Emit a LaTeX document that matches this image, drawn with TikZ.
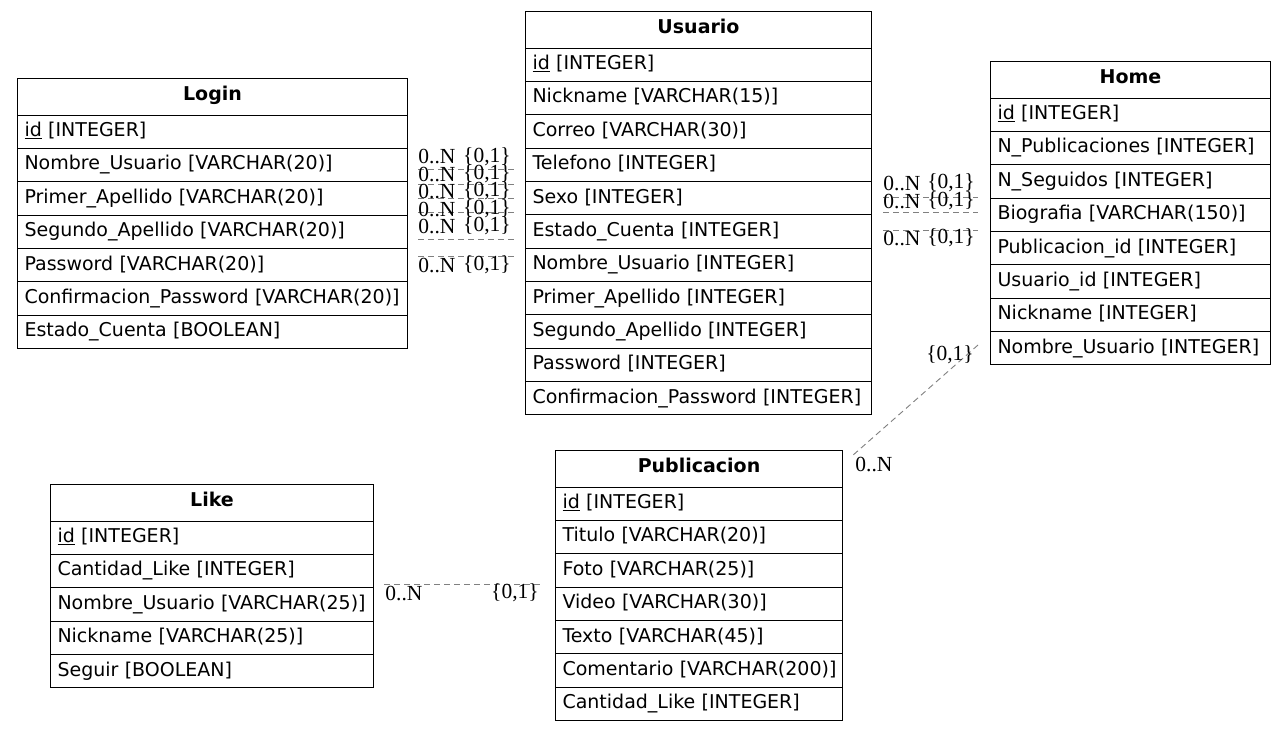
\documentclass[tikz,border=0pt]{standalone}
\usepackage{fontspec}
\newfontfamily\tabfont{DejaVu Sans}
\newfontfamily\cardfont{Liberation Serif}
\usetikzlibrary{calc}
\tikzset{
  x=1pt, y=-1pt,
  hdr/.style={draw, line width=1pt, rectangle, anchor=north west, inner sep=0pt,
    text height=14.4pt, text depth=6.5pt,
    minimum height=36.5pt, minimum width=#1, font=\tabfont\fontsize{19}{21}\selectfont\bfseries},
  fld/.style={draw, line width=1pt, rectangle, anchor=north west, inner xsep=7pt, inner ysep=0pt,
    text height=14.4pt, text depth=4.5pt,
    minimum height=33.35pt, text width=#1-14pt, align=left, font=\tabfont\fontsize{19}{21}\selectfont},
  rel/.style={draw=gray, dash pattern=on 6pt off 4pt, line width=0.9pt},
  card/.style={inner sep=0pt, font=\cardfont\fontsize{21.5}{23}\selectfont},
}
\newcommand\ertable[6]{%
  \node[hdr=#4] (#1) at (#2,#3) {#5};
  \foreach \f [count=\i] in {#6} {
    \node[fld=#4] (#1-\i) at ({#2},{#3+36.5+(\i-1)*33.35}) {\mbox{\f}};
  }
}
\begin{document}
\begin{tikzpicture}
\useasboundingbox (0,0) rectangle (1287,731);
\fill[white] (0,0) rectangle (1287,731);

\ertable{login}{17}{78}{390pt}{Login}{{\underline{id} [INTEGER]},{Nombre\_Usuario [VARCHAR(20)]},{Primer\_Apellido [VARCHAR(20)]},{Segundo\_Apellido [VARCHAR(20)]},{Password [VARCHAR(20)]},{Confirmacion\_Password [VARCHAR(20)]},{Estado\_Cuenta [BOOLEAN]}}

\ertable{usuario}{525}{11}{346pt}{Usuario}{{\underline{id} [INTEGER]},{Nickname [VARCHAR(15)]},{Correo [VARCHAR(30)]},{Telefono [INTEGER]},{Sexo [INTEGER]},{Estado\_Cuenta [INTEGER]},{Nombre\_Usuario [INTEGER]},{Primer\_Apellido [INTEGER]},{Segundo\_Apellido [INTEGER]},{Password [INTEGER]},{Confirmacion\_Password [INTEGER]}}

\ertable{home}{990}{61}{280pt}{Home}{{\underline{id} [INTEGER]},{N\_Publicaciones [INTEGER]},{N\_Seguidos [INTEGER]},{Biografia [VARCHAR(150)]},{Publicacion\_id [INTEGER]},{Usuario\_id [INTEGER]},{Nickname [INTEGER]},{Nombre\_Usuario [INTEGER]}}

\ertable{like}{50}{484}{323pt}{Like}{{\underline{id} [INTEGER]},{Cantidad\_Like [INTEGER]},{Nombre\_Usuario [VARCHAR(25)]},{Nickname [VARCHAR(25)]},{Seguir [BOOLEAN]}}

\ertable{pub}{555}{450}{287pt}{Publicacion}{{\underline{id} [INTEGER]},{Titulo [VARCHAR(20)]},{Foto [VARCHAR(25)]},{Video [VARCHAR(30)]},{Texto [VARCHAR(45)]},{Comentario [VARCHAR(200)]},{Cantidad\_Like [INTEGER]}}

% Login -- Usuario
\foreach \k/\ly/\ty in {1/169/157,2/184/174,3/198/191,4/212/209,5/239/226,6/256/265} {
  \coordinate (lu\k a) at (418,\ly);
  \coordinate (lu\k b) at (515,\ly);
  \draw[rel] (lu\k a) -- (lu\k b);
  \node[card] (lu\k n) at (437,\ty) {0..N};
  \node[card] (lu\k o) at (487,\ty) {\{0,1\}};
}

% Usuario -- Home
\foreach \k/\ly/\ty in {1/197/183,2/212/201,3/230/238} {
  \coordinate (uh\k a) at (883,\ly);
  \coordinate (uh\k b) at (978,\ly);
  \draw[rel] (uh\k a) -- (uh\k b);
  \node[card] (uh\k n) at (902,\ty) {0..N};
  \node[card] (uh\k o) at (951,\ty) {\{0,1\}};
}

% Home -- Publicacion
\coordinate (hp-a) at (978,345);
\coordinate (hp-b) at (852,456);
\draw[rel] (hp-a) -- (hp-b);
\node[card] (hp-o) at (950,355) {\{0,1\}};
\node[card] (hp-n) at (874,464) {0..N};

% Like -- Publicacion
\coordinate (lp-a) at (384,584);
\coordinate (lp-b) at (540,584);
\draw[rel] (lp-a) -- (lp-b);
\node[card] (lp-n) at (404,593) {0..N};
\node[card] (lp-o) at (515,593) {\{0,1\}};
\end{tikzpicture}
\end{document}
